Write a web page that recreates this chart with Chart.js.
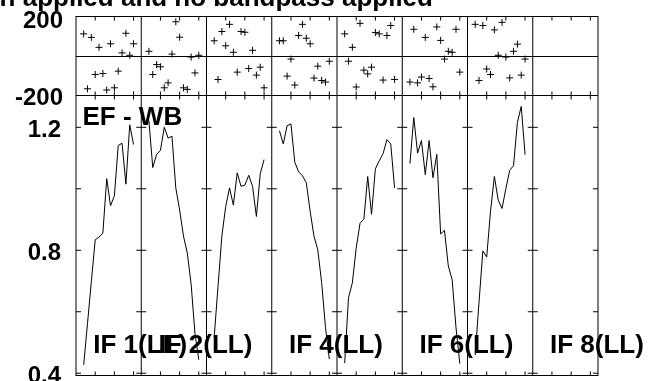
<!DOCTYPE html>
<html>
<head>
<meta charset="utf-8">
<script src="https://cdn.jsdelivr.net/npm/chart.js@4.4.0/dist/chart.umd.min.js"></script>
<style>
    html, body { margin: 0; padding: 0; background: #fff; }
    #wrap { width: 651px; height: 381px; }
</style>
</head>
<body>
<div id="wrap"><canvas id="possm" width="651" height="381"></canvas></div>
<script>
// Channels plotted in each IF panel
const channels = [2, 3, 4, 5, 6, 7, 8, 9, 10, 11, 12, 13, 14, 15];

// Phase (degrees) per IF
const phaseIF1 = [110, -167, 92, -95, 42, -90, -173, 60, -162, -78, 14, 113, 2, 60];
const phaseIF2 = [22, -95, -45, -56, -162, -137, 8, 171, 93, -162, -170, -7, -87, 2];
const phaseIF3 = [75, -120, 122, 50, 158, 17, -83, 122, 118, -65, 27, -98, -58, -162];
const phaseIF4 = [75, 75, -103, -17, -148, 102, 158, 88, 60, -113, -53, -125, -133, -28];
const phaseIF5 = [110, -28, 42, -158, 163, -73, -92, -58, 117, 110, -123, 102, 152, -120];
const phaseIF6 = [-133, 133, -137, -108, 92, -115, -157, 145, 77, -17, 22, 17, 133, -83];
const phaseIF7 = [158, -125, 152, -67, -95, 130, 2, 168, -7, -112, 22, 58, -98, -17];
const phaseIF8 = [];

// Amplitude per IF
const ampIF1 = [0.427, 0.562, 0.698, 0.834, 0.843, 0.856, 1.033, 0.945, 0.977, 1.141, 1.148, 1.015, 1.208, 1.144];
const ampIF2 = [1.221, 1.069, 1.112, 1.125, 1.200, 1.165, 1.171, 1.003, 0.931, 0.846, 0.791, 0.689, 0.528, 0.444];
const ampIF3 = [0.517, 0.682, 0.846, 0.942, 1.003, 0.947, 1.052, 1.008, 1.012, 1.044, 1.008, 0.910, 1.049, 1.095];
const ampIF4 = [1.189, 1.146, 1.205, 1.211, 1.087, 1.055, 1.042, 1.020, 0.927, 0.846, 0.801, 0.695, 0.549, 0.446];
const ampIF5 = [0.433, 0.646, 0.694, 0.807, 0.888, 0.901, 1.040, 0.917, 1.065, 1.091, 1.114, 1.160, 1.146, 1.003];
const ampIF6 = [1.082, 1.232, 1.116, 1.157, 1.046, 1.157, 1.036, 1.112, 0.853, 0.865, 0.749, 0.704, 0.549, 0.431];
const ampIF7 = [0.459, 0.630, 0.798, 0.778, 0.927, 1.040, 0.963, 0.936, 1.001, 1.060, 1.076, 1.216, 1.268, 1.111];
const ampIF8 = [];

// Labels and ticks
const ifNames = ['IF 1(LL)', 'IF 2(LL)', 'IF 3(LL)', 'IF 4(LL)', 'IF 5(LL)', 'IF 6(LL)', 'IF 7(LL)', 'IF 8(LL)'];
const labelledIFs = [0, 1, 3, 5, 7];
const sourceName = 'EF - WB';
const titleText = 'n applied and no bandpass applied';
const channelTicks = [5, 10, 15];
const phaseLabels = [200, -200];
const ampTicks = [1.2, 1.0, 0.8, 0.6, 0.4];
const ampLabels = [1.2, 0.8, 0.4];

const phases = [phaseIF1, phaseIF2, phaseIF3, phaseIF4, phaseIF5, phaseIF6, phaseIF7, phaseIF8];
const amps = [ampIF1, ampIF2, ampIF3, ampIF4, ampIF5, ampIF6, ampIF7, ampIF8];

const PANEL = 17;              // channel span of one IF panel
const NPANEL = ifNames.length;
const FONT = "'Liberation Sans', Arial, Helvetica, sans-serif";

const datasets = [];
phases.forEach((ph, p) => {
    datasets.push({
        data: ph.map((v, i) => ({ x: p * PANEL + channels[i], y: v })),
        yAxisID: 'yPh',
        showLine: false,
        pointStyle: 'cross',
        pointRadius: 3.5,
        borderWidth: 1,
        borderColor: '#000'
    });
});
amps.forEach((am, p) => {
    datasets.push({
        data: am.map((v, i) => ({ x: p * PANEL + channels[i], y: v })),
        yAxisID: 'yAmp',
        showLine: true,
        pointRadius: 0,
        borderWidth: 1,
        borderColor: '#000',
        tension: 0
    });
});

function seg(ctx, x1, y1, x2, y2) {
    ctx.moveTo(x1, y1);
    ctx.lineTo(x2, y2);
}

// Panel frames, tick marks and all the text
const possmPlugin = {
    id: 'possm',
    beforeDatasetsDraw(chart) {
        const { ctx, chartArea: a } = chart;
        const { x, yPh, yAmp } = chart.scales;
        const hy = v => Math.round(v) + 0.5;
        const yTop = hy(yPh.getPixelForValue(200));
        const yMid = hy(yPh.getPixelForValue(0));
        const ySplit = hy(yPh.getPixelForValue(-200));
        const yBot = hy(yAmp.getPixelForValue(yAmp.min)) - 1;
        ctx.save();
        ctx.strokeStyle = '#000';
        ctx.lineWidth = 1;
        ctx.beginPath();
        [yTop, yMid, ySplit, yBot].forEach(y => seg(ctx, a.left, y, a.right, y));
        for (let p = 0; p <= NPANEL; p++) {
            const px = x.getPixelForValue(p * PANEL);
            seg(ctx, px, a.top, px, a.bottom);
            ampTicks.forEach(t => {
                const py = yAmp.getPixelForValue(t);
                seg(ctx, p > 0 ? px - 5 : px, py, p < NPANEL ? px + 5 : px, py);
            });
        }
        for (let p = 0; p < NPANEL; p++) {
            channelTicks.forEach(t => {
                const px = x.getPixelForValue(p * PANEL + t);
                seg(ctx, px, yTop, px, yTop + 4);
                seg(ctx, px, ySplit - 4, px, ySplit + 4);
                seg(ctx, px, yBot - 4, px, yBot);
            });
        }
        ctx.stroke();
        ctx.restore();
    },
    afterDraw(chart) {
        const { ctx, chartArea: a } = chart;
        const { x, yPh, yAmp } = chart.scales;
        ctx.save();
        ctx.fillStyle = '#000';

        // title (cut off at the top)
        ctx.font = 'bold 26px ' + FONT;
        ctx.textAlign = 'right';
        ctx.textBaseline = 'alphabetic';
        ctx.fillText(titleText, x.getPixelForValue(93), 6);

        // axis labels
        ctx.font = 'bold 24px ' + FONT;
        ctx.textBaseline = 'middle';
        phaseLabels.forEach(v => {
            const off = v > 0 ? 5 : 3;
            ctx.fillText(String(v), a.left - 13, yPh.getPixelForValue(v) + off);
        });
        ampLabels.forEach(v => {
            ctx.fillText(v.toFixed(1), a.left - 15, yAmp.getPixelForValue(v) + 3);
        });

        // source name
        ctx.textAlign = 'left';
        ctx.textBaseline = 'alphabetic';
        ctx.font = 'bold 26px ' + FONT;
        ctx.fillText(sourceName, x.getPixelForValue(1.7), yAmp.getPixelForValue(1.207));

        // IF labels
        ctx.font = 'bold 26px ' + FONT;
        labelledIFs.forEach(p => {
            ctx.fillText(ifNames[p], x.getPixelForValue(p * PANEL + 4.5), yAmp.getPixelForValue(0.466));
        });
        ctx.restore();
    }
};

new Chart(document.getElementById('possm'), {
    type: 'line',
    data: { datasets },
    options: {
        responsive: false,
        animation: false,
        devicePixelRatio: 1,
        layout: { padding: { left: 76, right: 53, top: 16, bottom: 2 } },
        plugins: { legend: { display: false }, tooltip: { enabled: false }, title: { display: false } },
        scales: {
            x: {
                type: 'linear',
                min: 0,
                max: NPANEL * PANEL,
                ticks: { display: false },
                grid: { display: false, drawTicks: false },
                border: { display: false }
            },
            yAmp: {
                type: 'linear',
                position: 'left',
                stack: 'possm',
                stackWeight: 283,
                min: 0.391,
                max: 1.304,
                ticks: { display: false },
                grid: { display: false, drawTicks: false },
                border: { display: false }
            },
            yPh: {
                type: 'linear',
                position: 'left',
                stack: 'possm',
                stackWeight: 80,
                min: -200,
                max: 200,
                ticks: { display: false },
                grid: { display: false, drawTicks: false },
                border: { display: false }
            }
        }
    },
    plugins: [possmPlugin]
});
</script>
</body>
</html>
